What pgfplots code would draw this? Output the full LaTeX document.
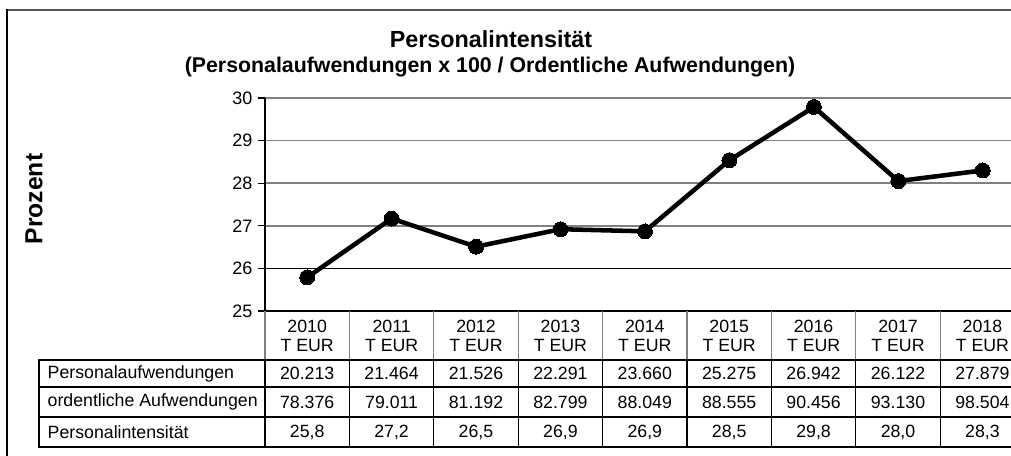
\documentclass[border=0pt]{standalone}
\usepackage{fontspec}
\setmainfont{Liberation Sans}
\usepackage{pgfplots}
\pgfplotsset{compat=1.18}
\definecolor{gridgray}{HTML}{808080}
\definecolor{framegray}{HTML}{555555}

\begin{document}
\begin{tikzpicture}
\useasboundingbox (0pt,0pt) rectangle (758.25pt,-342pt);
% chart area: 1px = 0.75pt, origin at top left of the image
\begin{axis}[
  at={(198.75pt,-233.25pt)}, anchor=south west,
  scale only axis, width=570pt, height=159.75pt,
  xmin=-0.5, xmax=8.5, ymin=25, ymax=30,
  ytick={25,26,27,28,29,30}, xtick=\empty,
  axis lines=left, axis line style={-, black, line width=0.9pt},
  ymajorgrids, major grid style={gridgray, line width=1.2pt},
  tick align=outside, major tick length=5pt,
  tick style={black, line width=0.8pt},
  yticklabel style={font=\fontsize{13.5pt}{15pt}\selectfont, xshift=-1pt},
  /pgf/number format/assume math mode=true,
  clip=false,
]
  \draw[black, line width=0.8pt] (axis cs:-0.5,26) -- (axis cs:8.5,26);
  \addplot[black, line width=3.4pt, mark=*, mark size=5.6pt, mark options={fill=black, line width=0pt}]
    coordinates {
      (0,25.79)(1,27.17)(2,26.51)(3,26.92)(4,26.87)
      (5,28.54)(6,29.79)(7,28.05)(8,28.30)
    };
\end{axis}

\begin{scope}[x=0.75pt, y=-0.75pt]
  % outer frame (cut off at right and bottom)
  \draw[framegray, line width=1.6pt] (7,10) -- (1030,10);
  \draw[black, line width=1.2pt] (7,9.5) -- (7,470);

  % titles
  \node[font=\bfseries\fontsize{17.5pt}{20pt}\selectfont] at (491,39) {Personalintensität};
  \node[font=\bfseries\fontsize{16pt}{19pt}\selectfont] at (490,67) {(Personalaufwendungen x 100 / Ordentliche Aufwendungen)};
  \node[font=\bfseries\fontsize{18.5pt}{22pt}\selectfont, rotate=90] at (34,199) {Prozent};

  % header of the data table
  \foreach \i in {0,...,9} {
    \draw[gridgray, line width=0.9pt] ({265+84.4*\i},311) -- ({265+84.4*\i},360);
  }
  \foreach \yr [count=\i from 0] in {2010,2011,2012,2013,2014,2015,2016,2017,2018} {
    \node[align=center, font=\fontsize{13.3pt}{14.5pt}\selectfont] at ({307.2+84.4*\i},336) {\yr\\T EUR};
  }

  % table body
  \draw[black, line width=1pt] (39,360) rectangle (1040,447);
  \draw[black, line width=1pt] (39,387) -- (1040,387);
  \draw[black, line width=1pt] (39,417) -- (1040,417);
  \foreach \i in {0,...,9} {
    \draw[black, line width=1pt] ({265+84.4*\i},360) -- ({265+84.4*\i},447);
  }
  \node[anchor=west, font=\fontsize{13.3pt}{15pt}\selectfont] at (43,373.5) {Personalaufwendungen};
  \node[anchor=west, font=\fontsize{13.3pt}{15pt}\selectfont] at (43,402) {ordentliche Aufwendungen};
  \node[anchor=west, font=\fontsize{13.3pt}{15pt}\selectfont] at (43,432) {Personalintensität};
  \foreach \v [count=\i from 0] in {20.213,21.464,21.526,22.291,23.660,25.275,26.942,26.122,27.879} {
    \node[font=\fontsize{13.3pt}{15pt}\selectfont] at ({307.2+84.4*\i},373.5) {\v};
  }
  \foreach \v [count=\i from 0] in {78.376,79.011,81.192,82.799,88.049,88.555,90.456,93.130,98.504} {
    \node[font=\fontsize{13.3pt}{15pt}\selectfont] at ({307.2+84.4*\i},402) {\v};
  }
  \foreach \v [count=\i from 0] in {{25,8},{27,2},{26,5},{26,9},{26,9},{28,5},{29,8},{28,0},{28,3}} {
    \node[font=\fontsize{13.3pt}{15pt}\selectfont] at ({307.2+84.4*\i},432) {\v};
  }
\end{scope}
\end{tikzpicture}
\end{document}
